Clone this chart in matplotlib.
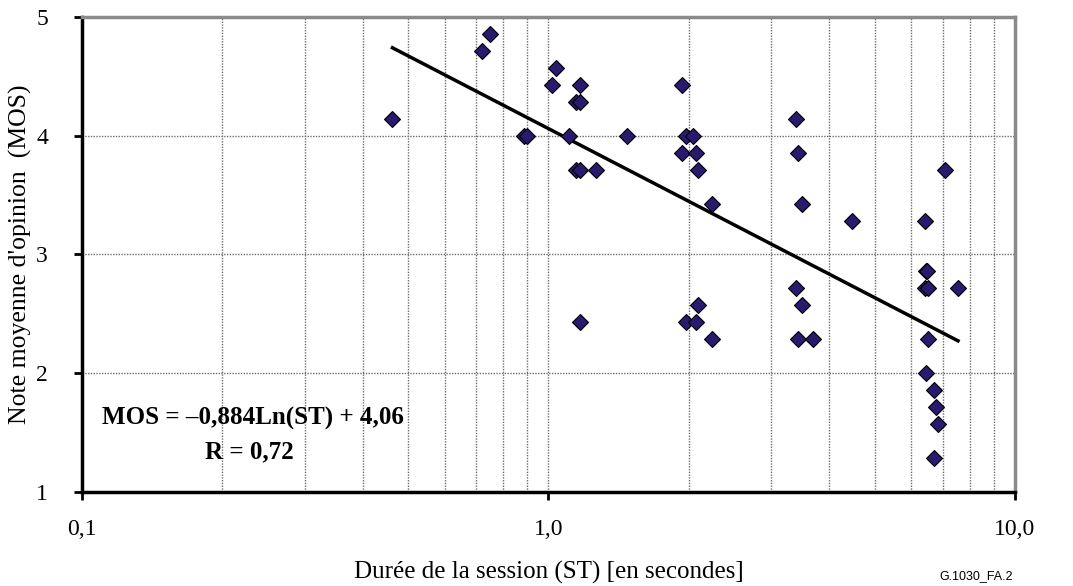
import numpy as np
import matplotlib
matplotlib.use("Agg")
import matplotlib.pyplot as plt
from matplotlib.ticker import FixedLocator, NullFormatter

# ---- data ----
session_time = [0.463, 0.721, 0.750, 1.040, 1.020, 1.170, 1.146, 1.170,
                0.888, 0.900, 1.105, 1.470, 1.146, 1.170, 1.267, 1.170,
                1.970, 2.070, 2.090, 2.240, 1.930, 1.970, 2.040, 1.930,
                2.070, 2.090, 2.240, 3.400, 3.430, 7.070, 3.490, 4.480,
                6.400, 6.440, 6.480, 3.400, 6.430, 6.500, 7.550, 3.490,
                3.430, 3.690, 6.520, 6.460, 6.720, 6.780, 6.850, 6.720]
mos = [4.143, 4.714, 4.857, 4.571, 4.429, 4.429, 4.286, 4.286,
       4.000, 4.000, 4.000, 4.000, 3.714, 3.714, 3.714, 2.429,
       2.429, 2.429, 2.571, 2.286, 4.429, 4.000, 4.000, 3.857,
       3.857, 3.714, 3.429, 4.143, 3.857, 3.714, 3.429, 3.286,
       3.286, 2.857, 2.857, 2.714, 2.714, 2.714, 2.714, 2.571,
       2.286, 2.286, 2.286, 2.000, 1.857, 1.714, 1.571, 1.286]

fit_slope = -0.884
fit_intercept = 4.06
fit_range = [0.463, 7.55]

x_ticks = [0.1, 1.0, 10.0]
x_tick_labels = ["0,1", "1,0", "10,0"]
y_ticks = [1, 2, 3, 4, 5]

equation_text = "MOS = \u20130,884Ln(ST) + 4,06"
r_text = "R = 0,72"
x_label = "Durée de la session (ST) [en secondes]"
y_label = "Note moyenne d'opinion  (MOS)"
figure_id = "G.1030_FA.2"

# ---- figure ----
serif = ["Liberation Serif", "DejaVu Serif"]
fig = plt.figure(figsize=(10.73, 5.86), dpi=100)
ax = fig.add_axes([0.0764, 0.1604, 0.8695, 0.8106])

ax.set_xscale("log")
ax.set_xlim(0.1, 10.0)
ax.set_ylim(1, 5)

# grid
minor = [m * d for d in (0.1, 1.0) for m in range(2, 10)]
ax.xaxis.set_minor_locator(FixedLocator(minor))
ax.xaxis.set_minor_formatter(NullFormatter())
ax.set_xticks(x_ticks)
ax.set_xticklabels(x_tick_labels)
ax.set_yticks(y_ticks)
ax.grid(which="major", axis="both", color="#6e6e6e", linestyle=(0, (1, 1)), linewidth=1.0)
ax.grid(which="minor", axis="x", color="#6e6e6e", linestyle=(0, (1, 1)), linewidth=1.0)
ax.set_axisbelow(True)

# fit line
xf = np.geomspace(fit_range[0], fit_range[1], 200)
ax.plot(xf, fit_slope * np.log(xf) + fit_intercept, color="black", linewidth=2.5, zorder=3)

# points
ax.plot(session_time, mos, linestyle="none", marker="D", markersize=8,
        markerfacecolor="#2a1a6e", markeredgecolor="black", markeredgewidth=0.8, zorder=4)

# spines
for s in ("left", "bottom"):
    ax.spines[s].set_linewidth(2.5)
    ax.spines[s].set_color("black")
for s in ("top", "right"):
    ax.spines[s].set_linewidth(2.5)
    ax.spines[s].set_color("#8a8a8a")

ax.tick_params(axis="both", which="major", direction="out", length=5.5, width=2.0,
               labelsize=17, color="black")
ax.tick_params(axis="x", which="major", pad=14)
ax.tick_params(axis="y", which="major", pad=19)
ax.tick_params(axis="x", which="minor", length=0)
for lab in ax.get_xticklabels() + ax.get_yticklabels():
    lab.set_family(serif)

ax.set_xlabel(x_label, fontsize=18, family=serif)
ax.xaxis.label.set_va("center")
ax.xaxis.set_label_coords(0.5, -(572 - 492) / 475)
ax.set_ylabel(y_label, fontsize=18.5, family=serif)
ax.yaxis.label.set_va("center")
ax.yaxis.set_label_coords(-(82 - 20) / 933, 0.5)

ax.text(0.1105, 1.623, equation_text, fontsize=18, fontweight="bold", family=serif,
        ha="left", va="center", zorder=5)
ax.text(0.229, 1.337, r_text, fontsize=18, fontweight="bold", family=serif,
        ha="center", va="center", zorder=5)

fig.text(1013 / 1073, 1 - 576 / 586, figure_id, fontsize=9,
         family=["Liberation Sans", "DejaVu Sans"], ha="right", va="center")

fig.savefig("out.png", dpi=100)
